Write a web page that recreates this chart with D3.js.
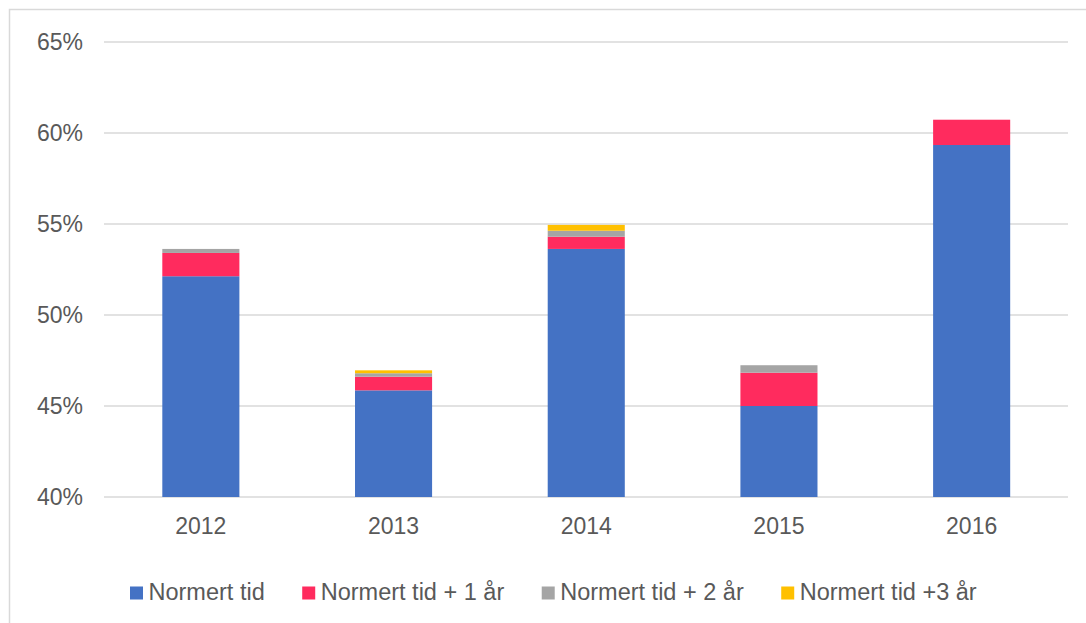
<!DOCTYPE html>
<html>
<head>
<meta charset="utf-8">
<script src="https://cdn.jsdelivr.net/npm/d3@7"></script>
<style>
  body { margin: 0; background: #fff; }
  text { font-family: "Liberation Sans", Arial, sans-serif; fill: #595959; }
</style>
</head>
<body>
<svg id="chart" width="1086" height="623"></svg>
<script>
// data
var years = ["2012", "2013", "2014", "2015", "2016"];
var seriesNames = ["Normert tid", "Normert tid + 1 år", "Normert tid + 2 år", "Normert tid +3 år"];
var normert = [52.13, 45.86, 53.63, 45.0, 59.34];
var plus1 = [1.28, 0.75, 0.67, 1.83, 1.39];
var plus2 = [0.22, 0.19, 0.33, 0.41, 0];
var plus3 = [0, 0.16, 0.32, 0, 0];
var yTicks = [40, 45, 50, 55, 60, 65];
var colors = ["#4472C4", "#FF2B5E", "#A5A5A5", "#FFC000"];

var svg = d3.select("#chart");

// frame
svg.append("rect")
	.attr("x", 9.5).attr("y", 9.5)
	.attr("width", 1200).attr("height", 700)
	.attr("fill", "none").attr("stroke", "#d9d9d9").attr("stroke-width", 1.5);

var x = d3.scaleBand().domain(years).range([104.5, 1068]).paddingInner(0.6).paddingOuter(0.3);
var y = d3.scaleLinear().domain([40, 65]).range([497, 42]);

// grid
svg.append("g").selectAll("line")
	.data(yTicks)
	.enter().append("line")
		.attr("x1", 104).attr("x2", 1068)
		.attr("y1", function(d){ return y(d); })
		.attr("y2", function(d){ return y(d); })
		.attr("stroke", "#d9d9d9").attr("stroke-width", 1.5);

svg.append("g").selectAll("text")
	.data(yTicks)
	.enter().append("text")
		.attr("x", 83)
		.attr("y", function(d){ return y(d) + 8; })
		.attr("text-anchor", "end")
		.style("font-size", "23px")
		.text(function(d){ return d + "%"; });

// stacked bars
var rows = years.map(function(yr, i){
	return { year: yr, a: normert[i], b: plus1[i], c: plus2[i], d: plus3[i] };
});
var stack = d3.stack().keys(["a", "b", "c", "d"]);
var layers = stack(rows);

svg.append("g").selectAll("g")
	.data(layers)
	.enter().append("g")
		.attr("fill", function(d, i){ return colors[i]; })
	.selectAll("rect")
	.data(function(d){ return d; })
	.enter().append("rect")
		.attr("x", function(d){ return x(d.data.year); })
		.attr("width", x.bandwidth())
		.attr("y", function(d){ return y(Math.max(d[1], 40)); })
		.attr("height", function(d){ return y(Math.max(d[0], 40)) - y(Math.max(d[1], 40)); });

// x labels
svg.append("g").selectAll("text")
	.data(years)
	.enter().append("text")
		.attr("x", function(d){ return x(d) + x.bandwidth() / 2; })
		.attr("y", 534)
		.attr("text-anchor", "middle")
		.style("font-size", "23px")
		.text(function(d){ return d; });

// legend
var lx = 130;
seriesNames.forEach(function(name, i){
	svg.append("rect")
		.attr("x", lx).attr("y", 586.5)
		.attr("width", 13).attr("height", 13)
		.attr("fill", colors[i]);
	var t = svg.append("text")
		.attr("x", lx + 18.5).attr("y", 599.5)
		.style("font-size", "23.5px")
		.text(name);
	lx = lx + 18.5 + t.node().getComputedTextLength() + 37.5;
});
</script>
</body>
</html>
